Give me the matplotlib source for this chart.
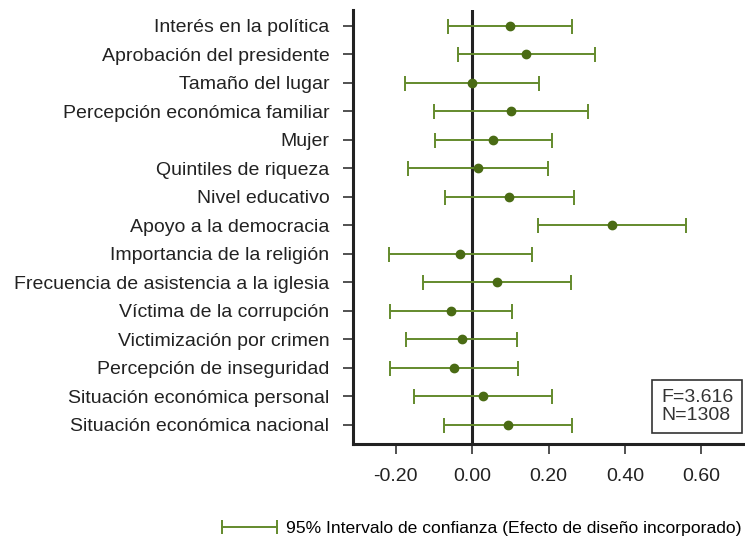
import matplotlib
matplotlib.use("Agg")
import matplotlib.pyplot as plt
from matplotlib.lines import Line2D
from matplotlib.legend_handler import HandlerBase

plt.rcParams["font.family"] = ["Liberation Sans", "DejaVu Sans"]

labels = [
    "Interés en la política",
    "Aprobación del presidente",
    "Tamaño del lugar",
    "Percepción económica familiar",
    "Mujer",
    "Quintiles de riqueza",
    "Nivel educativo",
    "Apoyo a la democracia",
    "Importancia de la religión",
    "Frecuencia de asistencia a la iglesia",
    "Víctima de la corrupción",
    "Victimización por crimen",
    "Percepción de inseguridad",
    "Situación económica personal",
    "Situación económica nacional",
]
coef = [0.099, 0.142, -0.001, 0.101, 0.055, 0.015, 0.097, 0.366,
        -0.031, 0.065, -0.056, -0.028, -0.048, 0.029, 0.093]
lower = [-0.064, -0.036, -0.176, -0.100, -0.098, -0.168, -0.071, 0.172,
         -0.219, -0.128, -0.215, -0.172, -0.215, -0.152, -0.073]
upper = [0.262, 0.321, 0.175, 0.304, 0.209, 0.199, 0.266, 0.560,
         0.157, 0.258, 0.103, 0.117, 0.120, 0.209, 0.260]
xticks = [-0.2, 0.0, 0.2, 0.4, 0.6]
stats_text = "F=3.616\nN=1308"
legend_label = "95% Intervalo de confianza (Efecto de diseño incorporado)"

line_color = "#638a2c"
dot_color = "#4a6b14"
ink = "#222222"


class CapLineHandler(HandlerBase):
    # legend key drawn as a horizontal interval with caps at both ends
    def create_artists(self, legend, orig_handle, xdescent, ydescent,
                       width, height, fontsize, trans):
        y = height / 2 - ydescent
        xs = [-xdescent, width - xdescent]
        line = Line2D(xs, [y, y], color=line_color, lw=1.4, transform=trans)
        caps = Line2D(xs, [y, y], ls="none", marker="|", markersize=10,
                      markeredgewidth=1.4, color=line_color, transform=trans)
        return [line, caps]


fig = plt.figure(figsize=(7.45, 5.44), dpi=100)
ax = fig.add_axes([353 / 745, 1 - 444 / 544, (745 - 353) / 745, (444 - 10) / 544])

n = len(labels)
ypos = [n - 1 - i for i in range(n)]
err_lo = [c - l for c, l in zip(coef, lower)]
err_hi = [u - c for c, u in zip(coef, upper)]

ax.axvline(0, color=ink, lw=2.2, zorder=1)
ax.errorbar(coef, ypos, xerr=[err_lo, err_hi], fmt="o", color=dot_color,
            ecolor=line_color, elinewidth=1.4, capsize=5.4, capthick=1.4,
            markersize=6, zorder=3)

ax.set_xlim(-0.312, 0.714)
ax.set_ylim(-0.667, n - 1 + 0.55)
ax.set_yticks(ypos)
ax.set_yticklabels(labels, fontsize=14, color=ink)
ax.set_xticks(xticks)
ax.set_xticklabels([f"{t:.2f}" for t in xticks], fontsize=14, color=ink)
ax.tick_params(axis="both", length=7, width=1.2, color="#333333")
ax.tick_params(axis="y", pad=10)
ax.tick_params(axis="x", pad=10)

for side in ["top", "right"]:
    ax.spines[side].set_visible(False)
for side in ["left", "bottom"]:
    ax.spines[side].set_linewidth(2.2)
    ax.spines[side].set_color(ink)

ax.text(0.97, 0.045, stats_text, transform=ax.transAxes, ha="right", va="bottom",
        multialignment="left", fontsize=14, color="#333333", linespacing=1.15,
        bbox=dict(boxstyle="square,pad=0.45", fc="white", ec="#333333", lw=1.2))

fig.legend([object()], [legend_label], handler_map={object: CapLineHandler()},
           loc="center left", bbox_to_anchor=(206 / 745, 1 - 528 / 544),
           frameon=False, fontsize=12.6, handlelength=3.15, handletextpad=0.55)

fig.savefig("out.png", dpi=100)
